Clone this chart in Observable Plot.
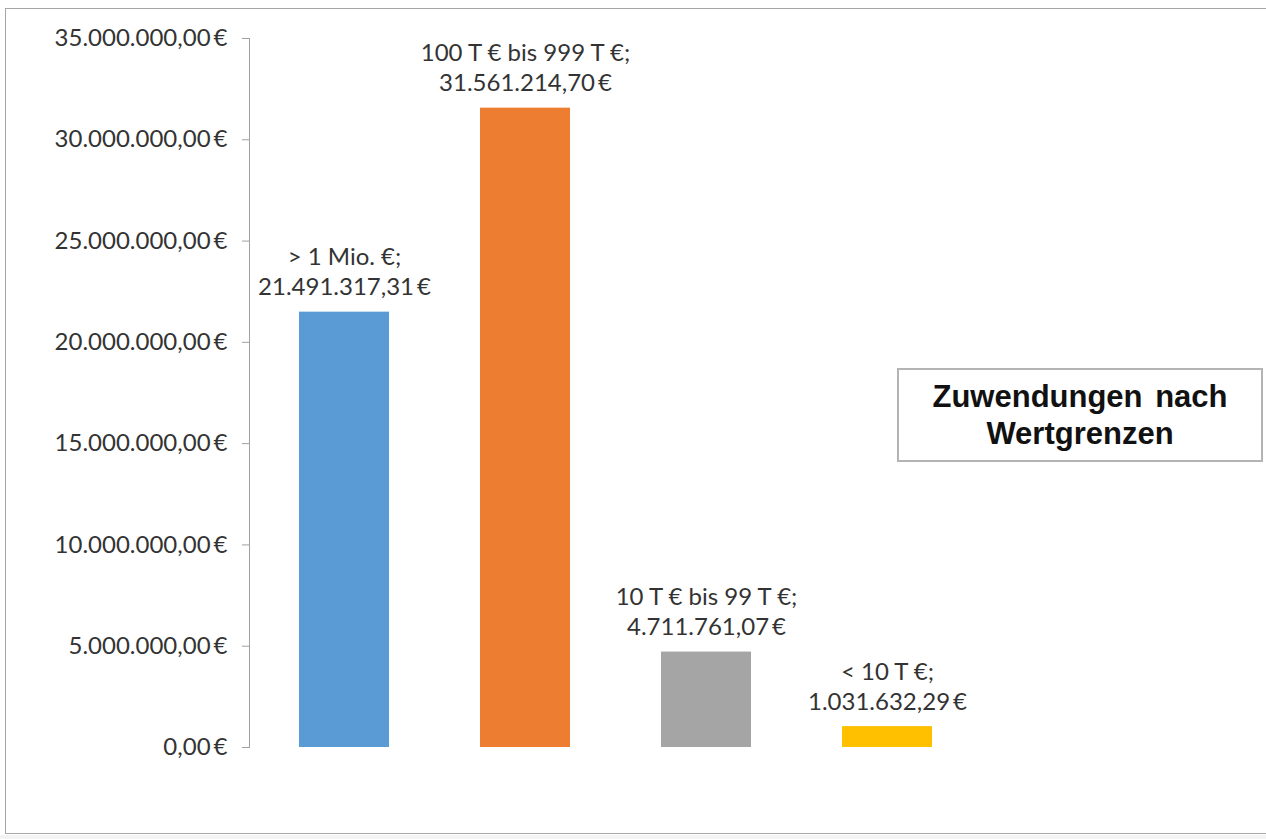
<!DOCTYPE html>
<html>
<head>
<meta charset="utf-8">
<script src="https://cdn.jsdelivr.net/npm/d3@7"></script>
<script src="https://cdn.jsdelivr.net/npm/@observablehq/plot@0.6"></script>
<style>
  html, body { margin: 0; padding: 0; background: #fff; }
  #wrap { position: relative; width: 1266px; height: 839px; overflow: hidden; background: #fff; }
  #frame { position: absolute; left: 5px; top: 8px; width: 1300px; height: 826px; border: 1px solid #a6a6a6; box-sizing: border-box; }
  #bottom { position: absolute; left: 0; top: 835px; width: 1266px; height: 4px; background: #f3f3f3; }
  #chart { position: absolute; left: 0; top: 0; }
  #legend { position: absolute; left: 897px; top: 368px; width: 366px; height: 94px; box-sizing: border-box;
            border: 2px solid #b4b4b4; background: #fff; font-family: "Liberation Sans", Arial, sans-serif;
            font-weight: bold; font-size: 31px; line-height: 37px; color: #111; text-align: center;
            display: flex; align-items: center; justify-content: center; word-spacing: 4px; }
</style>
</head>
<body>
<div id="wrap">
  <div id="frame"></div>
  <div id="bottom"></div>
  <div id="chart"></div>
  <div id="legend"><div>Zuwendungen nach<br>Wertgrenzen</div></div>
</div>
<script>
const categories = ["> 1 Mio. €", "100 T € bis 999 T €", "10 T € bis 99 T €", "< 10 T €"];
const values = [21491317.31, 31561214.70, 4711761.07, 1031632.29];
const colors = ["#5b9bd5", "#ed7d31", "#a5a5a5", "#ffc000"];
const yTicks = [0, 5000000, 10000000, 15000000, 20000000, 25000000, 30000000, 35000000];

const de = d3.formatLocale({decimal: ",", thousands: ".", grouping: [3], currency: ["", "\u2009€"]});
const fmt = de.format("$,.2f");

const data = categories.map((c, i) => ({cat: c, value: values[i], color: colors[i],
  label: c + ";\n" + fmt(values[i])}));

const chart = Plot.plot({
  width: 1266,
  height: 839,
  marginLeft: 249,
  marginTop: 38,
  marginBottom: 92,
  marginRight: 10,
  style: {fontFamily: "Lato, sans-serif", fontSize: "24px", color: "#333", background: "transparent"},
  x: {domain: categories, range: [252, 979], paddingInner: 0.505, paddingOuter: 0.2525, axis: null},
  y: {domain: [0, 35000000], axis: null},
  marks: [
    Plot.barY(data, {x: "cat", y: "value", fill: "color"}),
    Plot.frame({anchor: "left", stroke: "#a0a0a0"}),
    Plot.axisY({ticks: yTicks, tickFormat: fmt, tickSize: 7, tickPadding: 15, stroke: "#a0a0a0",
      fill: "#333", fontSize: 24, label: null}),
    Plot.text(data, {x: "cat", y: "value", text: "label", lineAnchor: "bottom", dy: -17,
      lineHeight: 1.25, fill: "#333", fontSize: 24})
  ]
});
document.getElementById("chart").appendChild(chart);
</script>
</body>
</html>
